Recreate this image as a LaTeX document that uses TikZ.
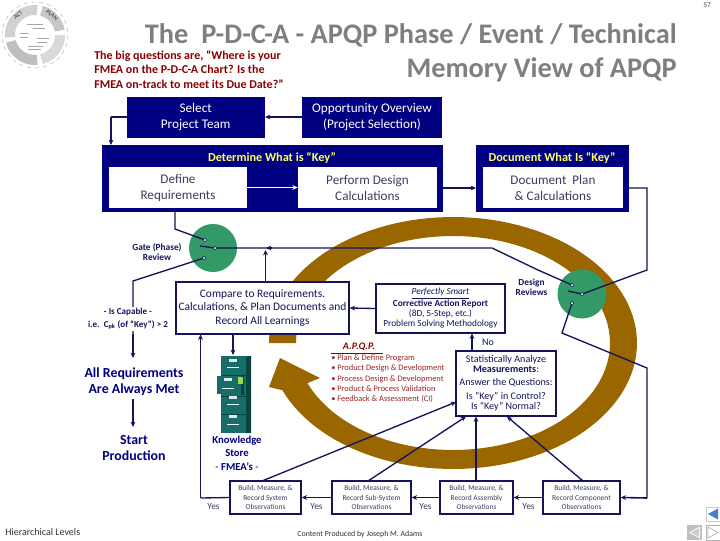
\documentclass[tikz,border=0pt]{standalone}
\usepackage{fontspec}
\setmainfont{Carlito}
\usetikzlibrary{arrows.meta}
\definecolor{navy}{HTML}{000080}
\definecolor{deep}{HTML}{14145A}
\definecolor{brownarc}{HTML}{996600}
\definecolor{gatec}{HTML}{339966}
\definecolor{titleg}{HTML}{7F7F7F}
\definecolor{redt}{HTML}{8B0000}
\definecolor{yel}{HTML}{FFFF66}
\definecolor{tealc}{HTML}{176E68}
\definecolor{teald}{HTML}{0A4440}
\definecolor{txtg}{HTML}{3C3C64}
\tikzset{
 x=0.75pt,y=-0.75pt,
 conn/.style={draw=deep,line width=1pt},
 arr/.style={conn,-{Stealth[length=4pt,width=3.6pt]}},
 whitetxt/.style={text=white,font=\fontsize{9.9}{12}\selectfont,align=center},
 whitebox/.style={fill=white,draw=none,text=txtg,font=\fontsize{9.9}{12}\selectfont,align=center},
 outlinebox/.style={fill=white,draw=deep,line width=1pt,text=deep,align=center},
 obsbox/.style={outlinebox,font=\fontsize{5.6}{7}\selectfont,text=txtg},
 lab/.style={text=deep,align=center,font=\bfseries\fontsize{7}{7.6}\selectfont},
 biglab/.style={text=navy,align=center,font=\bfseries\fontsize{10.4}{12}\selectfont},
 yeslab/.style={text=txtg,font=\fontsize{7}{8}\selectfont},
 contact/.style={circle,fill=white,draw=deep,line width=0.5pt,inner sep=0,minimum size=2.6pt},
 gatecirc/.style={circle,fill=gatec,draw=none,inner sep=0},
 keyhead/.style={text=yel,font=\bfseries\fontsize{9.2}{10}\selectfont},
 redq/.style={text=redt,font=\bfseries\fontsize{9}{10.9}\selectfont,align=left,anchor=north west,inner sep=0},
 aitem/.style={text=redt!85!white,font=\fontsize{6.3}{7.7}\selectfont,align=left,anchor=north west,inner sep=0},
 cabdash/.style={draw=white,line width=0.6pt},
}
\begin{document}
\begin{tikzpicture}
\useasboundingbox (0,0) rectangle (720,540);
\fill[white] (0,0) rectangle (720,540);

% page number and title
\node[text=black!70,font=\fontsize{5.5}{6}\selectfont,inner sep=0] (pageno) at (707,5) {57};
\node[text=titleg,font=\bfseries\fontsize{21.25}{25.5}\selectfont,align=right,anchor=north east,inner sep=0] (title) at (677,23) {The\ \ P-D-C-A - APQP Phase / Event / Technical\\Memory View of APQP};
\node[redq] (question) at (94,50) {The big questions are, “Where is your\\FMEA on the P-D-C-A Chart? Is the\\FMEA on-track to meet its Due Date?”};

% PDCA logo
\begin{scope}[shift={(35,35)}]
 \foreach \a/\b/\c in {-75/-10/black!22,0/75/black!15,85/165/black!25,175/275/black!18}{
  \fill[\c] plot[domain=\a:\b,samples=20] ({30*cos(\x)},{30*sin(\x)}) -- plot[domain=\b:\a,samples=20] ({20*cos(\x)},{20*sin(\x)}) -- cycle;
 }
 \draw[black!40,line width=0.25pt,dashed] (0,0) circle[radius=33];
 \foreach \yy/\xa/\xb in {-11/-8/8,-7/-2/10,-2/-15/-6,2/-15/-7,3/2/14,7/2/12,11/-7/8,14/-7/6}{
  \draw[black!35,line width=0.35pt] (\xa,\yy) -- (\xb,\yy);
 }
 \node[rotate=-40,font=\bfseries\fontsize{4.5}{5}\selectfont,text=black!65,inner sep=0] (lplan) at (17,-20) {PLAN};
 \node[rotate=40,font=\bfseries\fontsize{4.5}{5}\selectfont,text=black!65,inner sep=0] (lact) at (-17,-20) {ACT};
\end{scope}

% brown loop
\fill[brownarc] plot[domain=180:-158,samples=120] ({453+184*cos(\x)},{343-126*sin(\x)})
 -- (269,387) -- (280,358) -- (320,378)
 -- plot[domain=-158:180,samples=120] ({453+157*cos(\x)},{343-107*sin(\x)})
 -- cycle;

% top blue boxes
\fill[navy] (126.5,97) rectangle (265,138);
\node[whitetxt] (select) at (195.7,117.5) {Select\\Project Team};
\fill[navy] (302,97) rectangle (442,138);
\node[whitetxt] (opp) at (372,117.5) {Opportunity Overview\\(Project Selection)};
\coordinate (selL) at (126.5,117);
\coordinate (selR) at (265,117);
\coordinate (oppL) at (302,117);

\fill[navy] (102,145) rectangle (443,212);
\node[keyhead] (det) at (272,158) {Determine What is “Key”};
\node[whitebox,minimum width=138pt*0.75,minimum height=41pt*0.75] (define) at (178,187.5) {Define\\Requirements};
\node[whitebox,minimum width=139pt*0.75,minimum height=41pt*0.75] (perform) at (367.5,187.5) {Perform Design\\Calculations};

\fill[navy] (476,145) rectangle (629,212);
\node[keyhead] (doc) at (552,158) {Document What Is “Key”};
\node[whitebox,minimum width=140pt*0.75,minimum height=41pt*0.75] (docplan) at (553,187.5) {Document\ \ Plan\\\& Calculations};

\coordinate (detTL) at (111,145);
\coordinate (detB) at (175,212);
\coordinate (detR) at (443,188);
\coordinate (docL) at (476,188);
\coordinate (docR) at (629,188);

% connectors at top
\draw[arr] (oppL) -- (selR);
\draw[conn] (selL) -- (111,117);
\draw[arr] (111,117) -- (detTL);
\draw[draw=white,line width=1pt,-{Stealth[length=4pt,width=3.6pt]}] (define.east) -- (perform.west);
\draw[arr] (detR) -- (docL);

% gate circles
\node[gatecirc,minimum size=48pt*0.75] (gate) at (213,248) {};
\node[gatecirc,minimum size=49pt*0.75] (design) at (582,294) {};
\coordinate (gA) at (205,240);
\coordinate (gB) at (215,248);
\coordinate (gC) at (204,258);
\coordinate (dA) at (572,285);
\coordinate (dB) at (582,294);
\coordinate (dC) at (572,303);

% main boxes
\node[outlinebox,minimum width=173pt*0.75,minimum height=52pt*0.75,inner sep=0,font=\fontsize{8.6}{10.2}\selectfont] (compare) at (262.5,308) {Compare to Requirements.\\Calculations, \& Plan Documents and\\Record All Learnings};
\node[outlinebox,minimum width=129pt*0.75,minimum height=49pt*0.75,inner sep=0,font=\fontsize{7}{7.5}\selectfont] (perfect) at (440.5,308.5) {\underline{\textit{Perfectly Smart}}\\\textbf{Corrective Action Report}\\(8D, 5-Step, etc.)\\Problem Solving Methodology};
\node[outlinebox,minimum width=100pt*0.75,minimum height=65pt*0.75,inner sep=0,font=\fontsize{7.6}{7.5}\selectfont] (stat) at (506,383.5) {Statistically Analyze\\\textbf{Measurements}:\\[2.2pt]Answer the Questions:\\[2.8pt]Is “Key” in Control?\\Is “Key” Normal?};

\node[obsbox,minimum width=71pt*0.75,minimum height=33pt*0.75,inner sep=0] (sys) at (265.5,497.5) {Build, Measure, \&\\Record System\\Observations};
\node[obsbox,minimum width=79pt*0.75,minimum height=33pt*0.75,inner sep=0] (sub) at (371.5,497.5) {Build, Measure, \&\\Record Sub-System\\Observations};
\node[obsbox,minimum width=73pt*0.75,minimum height=33pt*0.75,inner sep=0] (asm) at (476.5,497.5) {Build, Measure, \&\\Record Assembly\\Observations};
\node[obsbox,minimum width=77pt*0.75,minimum height=33pt*0.75,inner sep=0] (comp) at (581.5,497.5) {Build, Measure, \&\\Record Component\\Observations};

% connectors: gate switch
\coordinate (g1) at (175,229);
\coordinate (g2) at (133,281);
\coordinate (m1) at (492,248);
\coordinate (m2) at (538,270);
\coordinate (d1) at (647,270);
\coordinate (d2) at (647,188);
\coordinate (d3) at (562,333);
\coordinate (d4) at (647,368);
\coordinate (d5) at (647,498);
\coordinate (sysL) at (200.5,498);
\coordinate (cmpU) at (200.5,334.5);
\draw[conn] (detB) -- (g1) -- (gA);
\draw[conn] (gC) -- (g2) -- (133,340);
\draw[conn] (200,246) -- (gB);
\draw[conn] (gB) -- (m1) -- (m2) -- (dA);
\draw[arr] (272,248) -- (266,248);
\draw[arr] (265.5,282) -- (265.5,250);
\draw[conn] (568,291) -- (dB);
\draw[conn] (dB) -- (d1) -- (d2) -- (docR);
\draw[conn] (dC) -- (d3) -- (d4) -- (d5);
\draw[arr,line width=1.2pt] (d5) -- (comp.east);
\draw[arr] (comp.west) -- (asm.east);
\draw[arr] (asm.west) -- (sub.east);
\draw[arr] (sub.west) -- (sys.east);
\draw[conn] (sys.west) -- (sysL);
\draw[arr] (sysL) -- (cmpU);
\draw[arr] (perfect.west) -- (compare.east);
\draw[arr] (472,351) -- (472,333.5);
\draw[arr] (262,481) -- (456,402);
\draw[arr] (368,481) -- (466,416.5);
\draw[arr] (476,481) -- (476,416.5);
\draw[arr] (583,481) -- (507,416.5);
\draw[arr] (233,334.5) -- (233,355);

\node[contact] (cA) at (gA) {};
\node[contact] (cB) at (gB) {};
\node[contact] (cC) at (gC) {};
\node[contact] (cD) at (dA) {};
\node[contact] (cE) at (dB) {};
\node[contact] (cF) at (dC) {};

% labels
\node[lab] (gatelab) at (157,252) {Gate (Phase)\\Review};
\node[lab] (desl) at (531.5,287.5) {Design\\Reviews};
\node[lab,fill=white,inner sep=1pt,font=\bfseries\fontsize{6.8}{9.2}\selectfont] (cap) at (128,319) {- Is Capable -\\i.e.\ \ C\textsubscript{pk} (of “Key”) > 2};
\node[biglab] (allreq) at (134,382) {All Requirements\\Are Always Met};
\node[biglab] (start) at (134,448) {Start\\Production};
\draw[arr,line width=1.2pt] (133,399) -- (133,427);
\draw[arr,line width=1.2pt] (133,334) -- (133,358);
\node[text=navy,align=center,font=\fontsize{8}{10.2}\selectfont] (know) at (237,453) {\textbf{Knowledge}\\\textbf{Store}\\- \textbf{FMEA’s} -};
\node[text=deep,font=\fontsize{7.5}{8}\selectfont] (nolab) at (488,342) {No};
\node[yeslab] (y1) at (213.5,507) {Yes};
\node[yeslab] (y2) at (316.5,507) {Yes};
\node[yeslab] (y3) at (425.5,507) {Yes};
\node[yeslab] (y4) at (528.5,507) {Yes};

% APQP list
\node[text=redt,font=\bfseries\itshape\fontsize{7.5}{8}\selectfont,inner sep=0] (apqp) at (359,347) {A.P.Q.P.};
\draw[redt,line width=0.5pt] (331,353) -- (383,353);
\node[aitem] (list) at (331,354.5) {• Plan \& Define Program\\• Product Design \& Development\\• Process Design \& Development\\• Product \& Process Validation\\• Feedback \& Assessment (CI)};

% file cabinet
\fill[tealc] (221,356) rectangle (251,433);
\fill[teald] (246,357) -- (251,356) -- (251,433) -- (246,433) -- cycle;
\draw[teald,line width=0.4pt] (221,375) -- (246,375);
\draw[teald,line width=0.4pt] (221,396) -- (246,396);
\draw[teald,line width=0.4pt] (221,414) -- (246,414);
\fill[tealc] (217,376) rectangle (241,394);
\fill[teald] (241,376) rectangle (244,395);
\fill[yellow!55!green!80!white] (238,377) rectangle (243,384);
\foreach \xx/\ya/\yb in {233/361/367,228/380/388,233/398/404,233/417/424}{
 \draw[cabdash] (\xx-6,\yb) -- (\xx+6,\yb);
 \fill[white!85!tealc] (\xx-4,\ya-2) rectangle (\xx+4,\ya+1);
}
% footer
\node[text=black!80,font=\fontsize{7.5}{8}\selectfont,anchor=west,inner sep=0] (hier) at (5,532) {Hierarchical Levels};
\node[text=black!80,font=\fontsize{5.9}{7}\selectfont,inner sep=0] (content) at (360,534) {Content Produced by Joseph M. Adams};

% nav buttons
\fill[white] (706,507) rectangle (720,521);
\draw[black!20,line width=0.5pt] (706,507) rectangle (720,521);
\fill[blue!45!teal!70!white] (708,514) -- (718,508.5) -- (718,519.5) -- cycle;
\fill[black!25] (687,525) rectangle (702,540);
\fill[white] (689,532.5) -- (700,526.5) -- (700,538.5) -- cycle;
\fill[black!20] (691,532.5) -- (699,528) -- (699,537) -- cycle;
\draw[black!30,line width=0.5pt] (706,525) rectangle (720,540);
\draw[black!30,line width=0.5pt,fill=white] (708,527) -- (718,532.5) -- (708,538) -- cycle;
\end{tikzpicture}
\end{document}
